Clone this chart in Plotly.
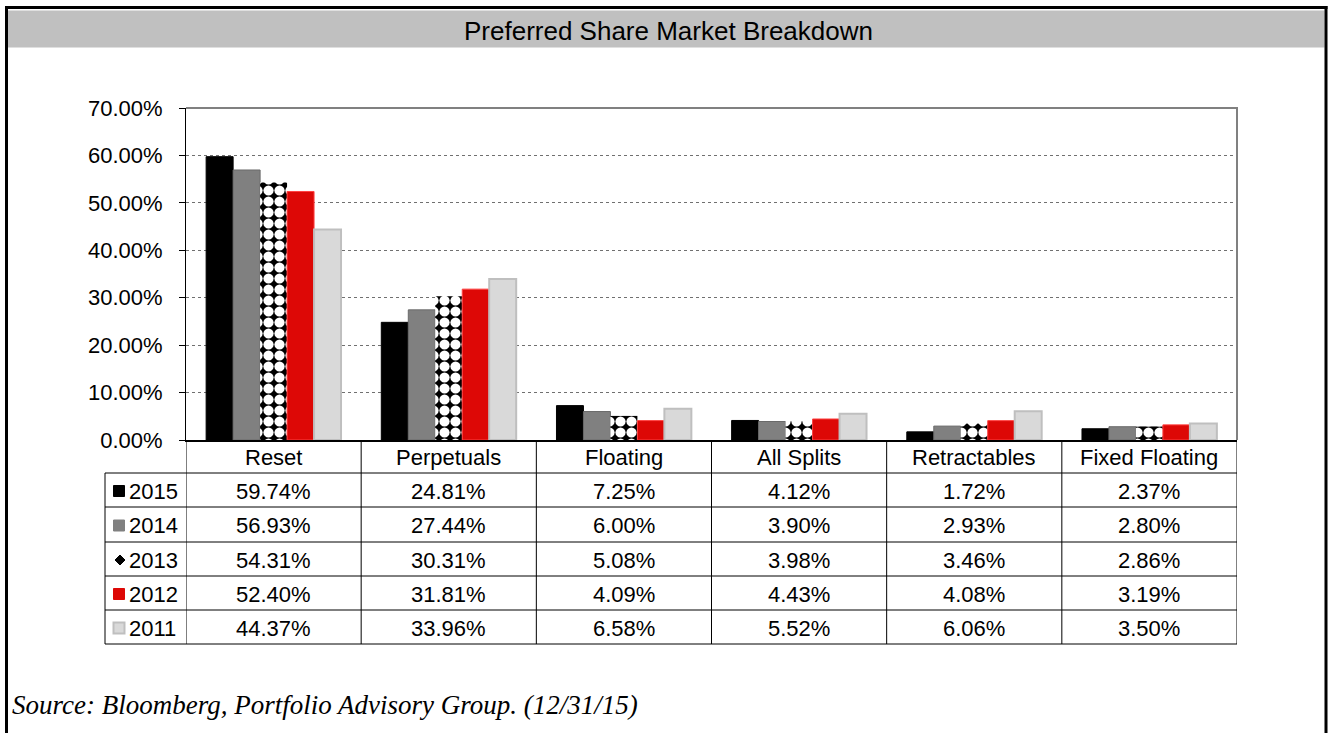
import plotly.graph_objects as go

categories = ["Reset", "Perpetuals", "Floating", "All Splits", "Retractables", "Fixed Floating"]
years = ["2015", "2014", "2013", "2012", "2011"]
v2015 = [59.74, 24.81, 7.25, 4.12, 1.72, 2.37]
v2014 = [56.93, 27.44, 6.00, 3.90, 2.93, 2.80]
v2013 = [54.31, 30.31, 5.08, 3.98, 3.46, 2.86]
v2012 = [52.40, 31.81, 4.09, 4.43, 4.08, 3.19]
v2011 = [44.37, 33.96, 6.58, 5.52, 6.06, 3.50]
series = [v2015, v2014, v2013, v2012, v2011]

W, H = 1328, 733
def px(x): return x / W
def py(y): return 1 - y / H

FONT = "Arial, Liberation Sans, sans-serif"

styles = [
    dict(color="#000000", marker_line=dict(color="#000000", width=1)),
    dict(color="#808080", marker_line=dict(color="#6a6a6a", width=1)),
    dict(color="#000000", marker_line=dict(color="#ffffff", width=0),
         pattern=dict(shape=".", fgcolor="#ffffff", bgcolor="#000000", size=11, solidity=0.68, fillmode="replace")),
    dict(color="#dd0806", marker_line=dict(color="#ff4040", width=1)),
    dict(color="#d9d9d9", marker_line=dict(color="#bfbfbf", width=2)),
]

fig = go.Figure()
for yr, vals, st in zip(years, series, styles):
    marker = dict(color=st["color"], line=st["marker_line"])
    if "pattern" in st:
        marker["pattern"] = st["pattern"]
    fig.add_trace(go.Bar(
        x=categories, y=[v / 100 for v in vals], name=yr, marker=marker,
        showlegend=False, hoverinfo="x+y+name",
    ))

shapes = []
annotations = []

# outer frame
shapes += [
    dict(type="line", xref="paper", yref="paper", x0=px(6.5), x1=px(6.5), y0=py(6), y1=0, line=dict(color="black", width=3)),
    dict(type="line", xref="paper", yref="paper", x0=px(5), x1=px(1327.5), y0=py(7.5), y1=py(7.5), line=dict(color="black", width=3)),
    dict(type="line", xref="paper", yref="paper", x0=px(1326), x1=px(1326), y0=py(6), y1=0, line=dict(color="black", width=3)),
    dict(type="rect", xref="paper", yref="paper", x0=px(8), x1=px(1324.5), y0=py(10.5), y1=py(47.5), fillcolor="#c0c0c0", line=dict(width=0), layer="below"),
]
annotations.append(dict(text="Preferred Share Market Breakdown", xref="paper", yref="paper",
                        x=px(668), y=py(31), showarrow=False, xanchor="center", yanchor="middle",
                        font=dict(family="Liberation Sans Narrow, Arial Narrow, Arial, Liberation Sans, sans-serif", size=26, color="black")))

# plot frame top / right (gray)
shapes += [
    dict(type="line", xref="paper", yref="paper", x0=px(186), x1=px(1238), y0=py(108), y1=py(108), line=dict(color="#808080", width=2)),
    dict(type="line", xref="paper", yref="paper", x0=px(1237), x1=px(1237), y0=py(107), y1=py(440), line=dict(color="#808080", width=2)),
]

# table geometry
row_lines = [473, 507, 542, 576, 610, 644]
tbl_top = 440
left_x = 105
ncat = len(categories)
for k in range(ncat + 1):
    shapes.append(dict(type="line", xref="x", yref="paper", x0=k - 0.5, x1=k - 0.5,
                       y0=py(tbl_top), y1=py(row_lines[-1]), line=dict(color="black", width=1)))
shapes.append(dict(type="line", xref="paper", yref="paper", x0=px(left_x), x1=px(left_x),
                   y0=py(row_lines[0]), y1=py(row_lines[-1]), line=dict(color="black", width=1)))
for r in row_lines:
    shapes.append(dict(type="line", xref="paper", yref="paper", x0=px(left_x), x1=px(1237),
                       y0=py(r), y1=py(r), line=dict(color="black", width=1)))

CELL_FONT = dict(family=FONT, size=22, color="black")
for c in categories:
    annotations.append(dict(text=c, xref="x", yref="paper", x=c, y=py((tbl_top + row_lines[0]) / 2 + 1),
                            showarrow=False, xanchor="center", yanchor="middle", font=CELL_FONT))
icon_fill = ["#000000", "#808080", None, "#dd0806", "#d9d9d9"]
icon_line = ["#000000", "#808080", None, "#dd0806", "#bfbfbf"]
for i, (yr, vals) in enumerate(zip(years, series)):
    yc = (row_lines[i] + row_lines[i + 1]) / 2 + 1
    annotations.append(dict(text=yr, xref="paper", yref="paper", x=px(127), y=py(yc),
                            showarrow=False, xanchor="left", yanchor="middle", font=CELL_FONT))
    if icon_fill[i] is not None:
        shapes.append(dict(type="rect", xref="paper", yref="paper", x0=px(113.5), x1=px(124.5),
                           y0=py(yc - 5.5), y1=py(yc + 5.5), fillcolor=icon_fill[i],
                           line=dict(color=icon_line[i], width=1 if i != 4 else 2)))
    else:
        cx, cy = 120, yc
        d = 5
        shapes.append(dict(type="path", xref="paper", yref="paper",
                           path=f"M {px(cx)} {py(cy - d)} L {px(cx + d)} {py(cy)} L {px(cx)} {py(cy + d)} L {px(cx - d)} {py(cy)} Z",
                           fillcolor="black", line=dict(color="black", width=1)))
    for c, v in zip(categories, vals):
        annotations.append(dict(text=f"{v:.2f}%", xref="x", yref="paper", x=c, y=py(yc),
                                showarrow=False, xanchor="center", yanchor="middle", font=CELL_FONT))

annotations.append(dict(text="Source: Bloomberg, Portfolio Advisory Group. (12/31/15)", xref="paper", yref="paper",
                        x=px(10), y=py(705), showarrow=False, xanchor="left", yanchor="middle",
                        font=dict(family="Liberation Serif, Times New Roman, serif", size=27, color="black", style="italic")))

fig.update_layout(
    width=W, height=H, margin=dict(l=0, r=0, t=0, b=0, autoexpand=False),
    paper_bgcolor="white", plot_bgcolor="white",
    barmode="group", bargap=0.23, bargroupgap=0,
    xaxis=dict(domain=[px(186), px(1237)], range=[-0.5, ncat - 0.5], showticklabels=False,
               showline=True, linecolor="black", linewidth=2, ticks="", showgrid=False, zeroline=False,
               fixedrange=True, automargin=False),
    yaxis=dict(domain=[py(440), py(108)], range=[0, 0.70], dtick=0.10, tickformat=".2%",
               showline=True, linecolor="black", linewidth=1, ticks="outside", ticklen=6, tickcolor="black",
               ticklabelstandoff=12, tickfont=dict(family=FONT, size=22, color="black"),
               showgrid=True, gridcolor="#707070", griddash="dot", gridwidth=1, zeroline=False,
               fixedrange=True, automargin=False),
    shapes=shapes, annotations=annotations,
)

post = ("document.documentElement.style.margin='0';document.body.style.margin='0';"
        "document.documentElement.style.overflow='hidden';document.body.style.overflow='hidden';"
        "var gd=document.getElementById('{plot_id}');gd.style.position='fixed';gd.style.top='0px';gd.style.left='0px';")
fig.write_html("out.html", config={"displayModeBar": False}, post_script=post)
